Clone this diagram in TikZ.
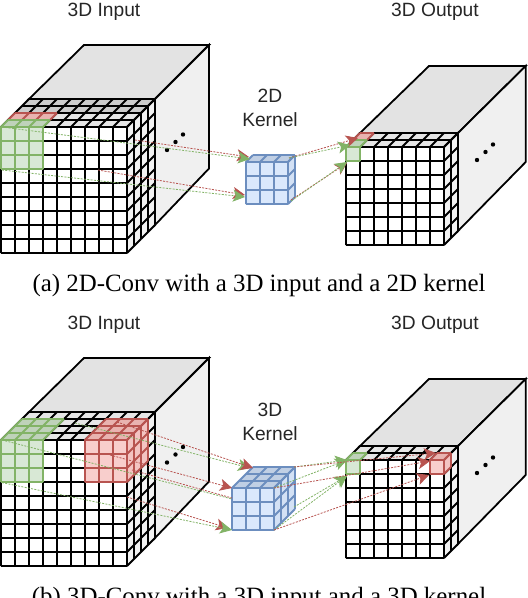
\documentclass[tikz,border=0pt]{standalone}
\usepackage{fontspec}
\setmainfont{Liberation Serif}
\newfontfamily\labelfont{Liberation Sans}
\usetikzlibrary{arrows.meta}
\definecolor{plainline}{HTML}{000000}\definecolor{plainfront}{HTML}{FFFFFF}\definecolor{plaintop}{HTML}{E6E6E6}\definecolor{plainside}{HTML}{F2F2F2}
\definecolor{darkline}{HTML}{000000}\definecolor{darkfront}{HTML}{FFFFFF}\definecolor{darktop}{HTML}{CCCCCC}\definecolor{darkside}{HTML}{F2F2F2}
\definecolor{grnline}{HTML}{82B366}\definecolor{grnfront}{HTML}{D8E8D5}\definecolor{grntop}{HTML}{BFD2BA}\definecolor{grnside}{HTML}{D8E8D5}
\definecolor{redline}{HTML}{B85450}\definecolor{redfront}{HTML}{F8CECC}\definecolor{redtop}{HTML}{E9B3B0}\definecolor{redside}{HTML}{F3C4C2}
\definecolor{bluline}{HTML}{6C8EBF}\definecolor{blufront}{HTML}{DAE8FC}\definecolor{blutop}{HTML}{C0CFE4}\definecolor{bluside}{HTML}{D3E1F5}
\definecolor{boxtop}{HTML}{E3E3E3}\definecolor{boxside}{HTML}{F0F0F0}
\definecolor{arrowred}{HTML}{B85450}\definecolor{arrowgreen}{HTML}{82B366}
\tikzset{
  cellline/.style={line width=1.8pt,line join=miter},
  bigface/.style={draw=black,line width=1.8pt,line join=miter},
  flow/.style={line width=0.8pt,dash pattern=on 2pt off 1.3pt,-{Stealth[length=12pt,width=12pt,inset=3pt]}},
  flowplain/.style={line width=0.8pt,dash pattern=on 2pt off 1.3pt},
  redflow/.style={flow,color=arrowred},
  greenflow/.style={flow,color=arrowgreen},
  redplain/.style={flowplain,color=arrowred},
  greenplain/.style={flowplain,color=arrowgreen},
  lab/.style={font=\labelfont\fontsize{19.2}{23}\selectfont,text=black!85,inner sep=0pt,align=center},
  captext/.style={font=\fontsize{24.9}{28}\selectfont,inner sep=0pt,anchor=base},
  dotmark/.style={fill=black,draw=none}
}
\def\cw{14}\def\dw{7}
% x, y, cols, rows, depth steps, colour prefix, show side (1/0)
\newcommand\gbox[7]{%
  \pgfmathsetmacro\W{#3*\cw}\pgfmathsetmacro\H{#4*\cw}\pgfmathsetmacro\D{#5*\dw}
  \fill[#6front] (#1,#2) rectangle ++(\W,\H);
  \fill[#6top] (#1,#2) -- ++(\D,-\D) -- ++(\W,0) -- ++(-\D,\D) -- cycle;
  \ifnum#7=1 \fill[#6side] (#1+\W,#2) -- ++(\D,-\D) -- ++(0,\H) -- ++(-\D,\D) -- cycle;\fi
  \foreach \c in {0,...,#3}{\draw[cellline,#6line] (#1+\c*\cw,#2+\H) -- ++(0,-\H) -- ++(\D,-\D);}
  \foreach \r in {0,...,#4}{\draw[cellline,#6line] (#1,#2+\r*\cw) -- ++(\W,0);}
  \foreach \k in {1,...,#5}{\draw[cellline,#6line] (#1+\k*\dw,#2-\k*\dw) -- ++(\W,0);}
  \ifnum#7=1
    \foreach \k in {1,...,#5}{\draw[cellline,#6line] (#1+\W+\k*\dw,#2-\k*\dw) -- ++(0,\H);}
    \foreach \r in {0,...,#4}{\draw[cellline,#6line] (#1+\W,#2+\r*\cw) -- ++(\D,-\D);}
  \fi
}
\newcommand\inputbox{%
  \filldraw[bigface,fill=boxtop] (29,99) -- (84,45) -- (209,45) -- (155,99) -- cycle;
  \filldraw[bigface,fill=boxside] (155,99) -- (209,45) -- (209,168.5) -- (155,225) -- cycle;
}
\newcommand\outputbox{%
  \filldraw[bigface,fill=boxtop] (360,133) -- (429,66) -- (525.7,66) -- (458,133) -- cycle;
  \filldraw[bigface,fill=boxside] (458,133) -- (525.7,66) -- (525.7,162) -- (458,231) -- cycle;
}
\newcommand\threedots[3]{%
  \fill[dotmark] (#1,#2) circle (2.2);
  \fill[dotmark] (#1+8.5,#2-8) circle (2.2);
  \fill[dotmark] (#1+16,#2-15.5) circle (2.2);
}
\begin{document}
\begin{tikzpicture}[x=1pt,y=-1pt]
\useasboundingbox (0,0) rectangle (528,598);
\fill[white] (0,0) rectangle (528,598);
% ---------- (a) ----------
\node[lab] (ainlabel) at (104,11.5) {3D Input};
\node[lab] (aoutlabel) at (435,11.5) {3D Output};
\node[lab] (akernlabel) at (270,108) {2D\\[1pt]Kernel};
\inputbox
\gbox{15}{113}{9}{9}{2}{dark}{1}
\gbox{1}{127}{9}{9}{2}{plain}{1}
\gbox{8}{120}{3}{0}{1}{red}{0}
\gbox{1}{127}{3}{3}{1}{grn}{0}
\threedots{167}{150}{}
\outputbox
\gbox{346}{147}{7}{7}{2}{plain}{1}
\gbox{353}{140}{1}{0}{1}{red}{0}
\gbox{346}{147}{1}{1}{1}{grn}{0}
\threedots{477}{160}{}
\gbox{246}{162}{3}{3}{1}{blu}{1}
\coordinate (ar1s) at (135,140);   \coordinate (ar1e) at (249,157);
\coordinate (ag1s) at (2,127);     \coordinate (ag1e) at (250,159);
\coordinate (ar2s) at (98,170);    \coordinate (ar2e) at (245,195);
\coordinate (ag2s) at (2,170);     \coordinate (ag2e) at (245,197);
\coordinate (ar3s) at (289,158);   \coordinate (ar3e) at (358,138);
\coordinate (ag3s) at (289,158);   \coordinate (ag3e) at (350,145);
\coordinate (ar4s) at (291,200);   \coordinate (ar4e) at (347,163);
\coordinate (ag4s) at (291,201);   \coordinate (ag4e) at (347,162);
\draw[redflow] (ar1s) -- (ar1e);
\draw[greenflow] (ag1s) -- (ag1e);
\draw[redflow] (ar2s) -- (ar2e);
\draw[greenflow] (ag2s) -- (ag2e);
\draw[redflow] (ar3s) -- (ar3e);
\draw[greenflow] (ag3s) -- (ag3e);
\draw[redflow] (ar4s) -- (ar4e);
\draw[greenflow] (ag4s) -- (ag4e);
\node[captext] (acap) at (259,291) {(a) 2D-Conv with a 3D input and a 2D kernel};
% ---------- (b) ----------
\node[lab] (binlabel) at (104,325) {3D Input};
\node[lab] (boutlabel) at (435,325) {3D Output};
\node[lab] (bkernlabel) at (270,421.5) {3D\\[1pt]Kernel};
\begin{scope}[yshift=-313pt]
\inputbox
\gbox{1}{127}{9}{9}{4}{plain}{1}
\gbox{1}{127}{3}{3}{3}{grn}{0}
\gbox{85}{127}{3}{3}{3}{red}{1}
\threedots{167}{149.5}{}
\outputbox
\gbox{346}{147}{7}{7}{2}{plain}{1}
\gbox{346}{147}{1}{1}{1}{grn}{0}
\gbox{430}{147}{1}{1}{1}{red}{1}
\threedots{477}{160}{}
\end{scope}
\gbox{232}{488}{3}{3}{3}{blu}{1}
\coordinate (br1s) at (117,422);   \coordinate (br1e) at (253,468);
\coordinate (bg1s) at (75,423);    \coordinate (bg1e) at (250,468);
\coordinate (br2s) at (110,455);   \coordinate (br2e) at (232,488);
\coordinate (br5s) at (132,470);   \coordinate (br5e) at (232,498);
\coordinate (bg2s) at (2,440);     \coordinate (bg2e) at (232,499);
\coordinate (br3s) at (127,497);   \coordinate (br3e) at (228,528);
\coordinate (bg3s) at (2,482.6);   \coordinate (bg3e) at (232,530);
\draw[greenflow] (bg1s) -- (bg1e);
\draw[redflow] (br1s) -- (br1e);
\draw[redplain] (br5s) -- (br5e);
\draw[greenplain] (bg2s) -- (bg2e);
\draw[redflow] (br2s) -- (br2e);
\draw[redflow] (br3s) -- (br3e);
\draw[greenflow] (bg3s) -- (bg3e);
\coordinate (bk1) at (294,467);
\coordinate (bk2) at (274,488);
\coordinate (bk3) at (274,530);
\coordinate (bk4) at (294,507);
\coordinate (bga) at (347,460);
\coordinate (bgb) at (347,476);
\coordinate (bra) at (436,453);
\coordinate (brb) at (430,461);
\coordinate (brc) at (429,475);
\draw[greenflow] (bk1) -- (bga);
\draw[greenflow] (bk2) -- (bga);
\draw[greenflow] (bk3) -- (bgb);
\draw[greenflow] (bk4) -- (bgb);
\draw[redflow] (bk1) -- (bra);
\draw[redflow] (bk2) -- (brb);
\draw[redflow] (bk3) -- (brc);
\node[captext] (bcap) at (259,604.5) {(b) 3D-Conv with a 3D input and a 3D kernel};
\end{tikzpicture}
\end{document}
